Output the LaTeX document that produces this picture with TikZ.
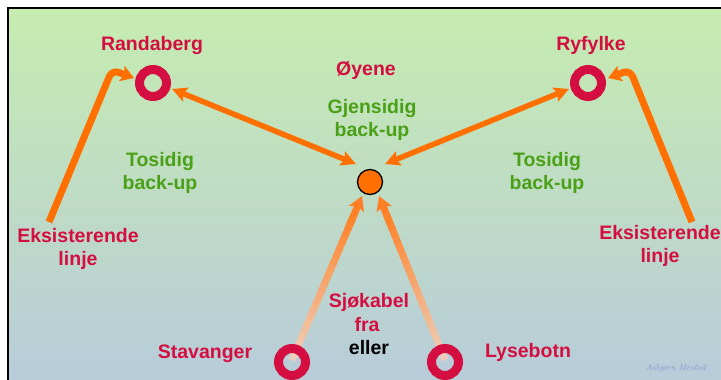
\documentclass[tikz,border=0pt]{standalone}
\usepackage{fontspec}
\newfontfamily\arialb{Liberation Sans}
\usetikzlibrary{arrows.meta,calc}
\definecolor{crim}{RGB}{212,14,64}
\definecolor{grn}{RGB}{74,160,22}
\definecolor{org}{RGB}{255,112,0}
\definecolor{lorg}{RGB}{255,128,36}
\definecolor{peach}{RGB}{238,206,186}
\definecolor{bgtop}{RGB}{198,236,176}
\definecolor{bgbot}{RGB}{184,204,218}
\definecolor{wm}{RGB}{130,150,215}
\tikzset{
  txt/.style={font=\arialb\bfseries\fontsize{19.5}{23}\selectfont, inner sep=0pt, anchor=base},
  ring/.style={circle, draw=crim, line width=9pt, minimum size=27pt, inner sep=0pt},
  hubnode/.style={circle, fill=org, draw=black, line width=1.3pt, minimum size=25pt, inner sep=0pt},
  existing/.style={draw=org, line width=7pt, rounded corners=7pt, -{Stealth[length=13pt,width=16pt,inset=3pt]}},
  twoway/.style={draw=org, line width=5.5pt, {Stealth[length=15pt,width=15pt,inset=3pt]}-{Stealth[length=15pt,width=15pt,inset=3pt]}},
  seg/.style={line width=7pt, line cap=butt},
  feedtip/.style={draw=lorg, line width=7pt, -{Stealth[length=14pt,width=16pt,inset=3pt]}}
}
\begin{document}
\begin{tikzpicture}[x=1pt,y=-1pt]
\useasboundingbox (0,0) rectangle (721,380);
\shade[top color=bgtop, bottom color=bgbot] (9,9) rectangle (721,380);
\draw[line width=2.5pt] (8,381) -- (8,8) -- (721,8);

% coordinates
\coordinate (elS) at (49,222);
\coordinate (elB) at (112,70);
\coordinate (elE) at (134,78);
\coordinate (erS) at (692,222);
\coordinate (erB) at (630,70);
\coordinate (erE) at (608,78);
\coordinate (rdA) at (172,89);
\coordinate (rdB) at (356,164);
\coordinate (ryA) at (569,89);
\coordinate (ryB) at (385,164);
\coordinate (stA) at (292,360);
\coordinate (stB) at (362,196);
\coordinate (lyA) at (445,360);
\coordinate (lyB) at (379,196);

% existing lines
\draw[existing] (elS) -- (elB) -- (elE);
\draw[existing] (erS) -- (erB) -- (erE);

% two-way backups
\draw[twoway] (rdA) -- (rdB);
\draw[twoway] (ryA) -- (ryB);

% feed arrows with gradient
\draw[feedtip] ($(stA)!0.8!(stB)$) -- (stB);
\draw[feedtip] ($(lyA)!0.8!(lyB)$) -- (lyB);
\foreach \i [evaluate=\i as \f using \i/24, evaluate=\i as \g using (\i+1.3)/24, evaluate=\i as \p using int(100*\i/21)] in {0,...,20}{
  \draw[seg, draw=lorg!\p!peach] ($(stA)!\f!(stB)$) -- ($(stA)!\g!(stB)$);
  \draw[seg, draw=lorg!\p!peach] ($(lyA)!\f!(lyB)$) -- ($(lyA)!\g!(lyB)$);
}

% rings
\node[ring] (rand) at (153,83) {};
\node[ring] (ryf) at (588,83) {};
\node[ring] (stav) at (292,362) {};
\node[ring] (lyse) at (445,362) {};
\node[hubnode] (hub) at (370,182) {};

% texts
\node[txt,text=crim] (randT) at (152,50) {Randaberg};
\node[txt,text=crim] (ryfT) at (591,50) {Ryfylke};
\node[txt,text=crim] (oyT) at (366,75) {Øyene};
\node[txt,text=grn] (gj1) at (372,113) {Gjensidig};
\node[txt,text=grn] (gj2) at (372,136) {back-up};
\node[txt,text=grn] (tl1) at (160,166) {Tosidig};
\node[txt,text=grn] (tl2) at (160,189) {back-up};
\node[txt,text=grn] (tr1) at (547,166) {Tosidig};
\node[txt,text=grn] (tr2) at (547,189) {back-up};
\node[txt,text=crim] (el1) at (78,242) {Eksisterende};
\node[txt,text=crim] (el2) at (78,265) {linje};
\node[txt,text=crim] (er1) at (660,239) {Eksisterende};
\node[txt,text=crim] (er2) at (660,262) {linje};
\node[txt,text=crim] (stT) at (205,358) {Stavanger};
\node[txt,text=crim] (lyT) at (528,357) {Lysebotn};
\node[txt,text=crim] (sj1) at (369,307) {Sjøkabel};
\node[txt,text=crim] (sj2) at (367,331) {fra};
\node[txt,text=black] (sj3) at (369,354) {eller};
\node[font=\itshape\fontsize{8.5}{9}\selectfont, text=wm, inner sep=0pt] (wmk) at (676,368) {Asbjørn Mestad};
\end{tikzpicture}
\end{document}
